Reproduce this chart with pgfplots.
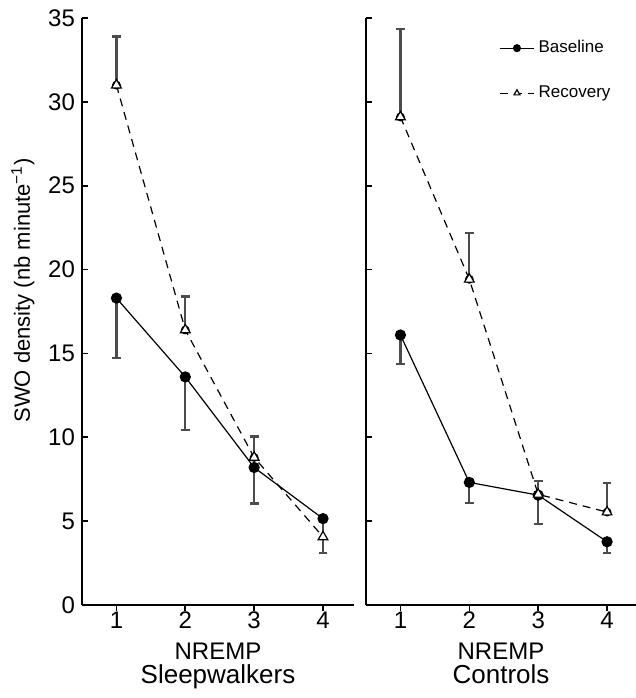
\documentclass[border=0pt]{standalone}
\usepackage{pgfplots}
\pgfplotsset{compat=1.18}
\usepackage{fontspec}
\setmainfont{Liberation Sans}

\pgfplotsset{
  panel/.style={
    scale only axis, height=293.5pt,
    axis lines=left, axis line style={-, line width=0.8pt},
    xmin=0.5, ymin=0, ymax=35,
    xtick={1,2,3,4}, ytick={0,5,...,35},
    tick align=inside, major tick length=3pt,
    tick style={line width=0.8pt, black},
    xtick style={yshift=-3pt},
    ticklabel style={font=\fontsize{12}{14}\selectfont},
    /pgf/number format/assume math mode=true,
    xlabel style={align=center},
    clip=false,
  },
  base/.style={black, line width=0.6pt, mark=*, mark size=2.5pt},
  reco/.style={black, line width=0.6pt, dash pattern=on 4pt off 3pt,
    mark=triangle*, mark size=2.8pt, mark options={solid, fill=white}},
  ebar/.style={black, only marks, mark=none, forget plot,
    error bars/.cd, y dir=#1, y explicit,
    error bar style={black!70, line width=1.1pt},
    error mark options={rotate=90, mark size=2.2pt, black!70, line width=1.1pt}},
}

\begin{document}
\begin{tikzpicture}
\path[use as bounding box] (0,0) rectangle (318pt,-349pt);

% sleepwalkers
\begin{axis}[panel, at={(41pt,-302.5pt)}, anchor=south west,
    width=136pt, xmax=4.45,
    ylabel={SWO density (nb minute\textsuperscript{−1})},
    ylabel style={font=\fontsize{11}{13}\selectfont, at={(ticklabel cs:0.536)}},
    xlabel={\fontsize{12}{13}\selectfont NREMP\\\fontsize{13}{15}\selectfont Sleepwalkers}]
  \addplot[ebar=minus] coordinates {(1,18.3) -= (0,3.55) (2,13.6) -= (0,3.15) (3,8.2) -= (0,2.15) (4,5.15) -= (0,2.05)};
  \addplot[ebar=plus] coordinates {(1,31.0) += (0,2.9) (2,16.4) += (0,2.0) (3,8.8) += (0,1.25)};
  \addplot[reco] coordinates {(1,31.0) (2,16.4) (3,8.8) (4,4.06)};
  \addplot[base] coordinates {(1,18.3) (2,13.6) (3,8.2) (4,5.15)};
\end{axis}

% controls
\begin{axis}[panel, at={(183pt,-302.5pt)}, anchor=south west,
    width=135pt, xmax=4.42, yticklabels={},
    xlabel={\fontsize{12}{13}\selectfont NREMP\\\fontsize{13}{15}\selectfont Controls},
    legend style={draw=none, fill=none, at={(0.47,0.976)}, anchor=north west,
      font=\fontsize{8.5}{10}\selectfont, row sep=11pt},
    legend cell align=left,
    legend image code/.code={\draw[mark repeat=2, mark phase=2, #1, mark size=1.7pt]
      plot coordinates {(0cm,0cm) (0.3cm,0cm) (0.6cm,0cm)};}]
  \addplot[ebar=minus] coordinates {(1,16.1) -= (0,1.72) (2,7.31) -= (0,1.24) (3,6.55) -= (0,1.72) (4,3.77) -= (0,0.66)};
  \addplot[ebar=plus] coordinates {(1,29.1) += (0,5.24) (2,19.42) += (0,2.75) (3,6.6) += (0,0.8) (4,5.54) += (0,1.74)};
  \addplot[base] coordinates {(1,16.1) (2,7.31) (3,6.55) (4,3.77)};
  \addlegendentry{Baseline}
  \addplot[reco] coordinates {(1,29.1) (2,19.42) (3,6.6) (4,5.54)};
  \addlegendentry{Recovery}
\end{axis}
\end{tikzpicture}
\end{document}
